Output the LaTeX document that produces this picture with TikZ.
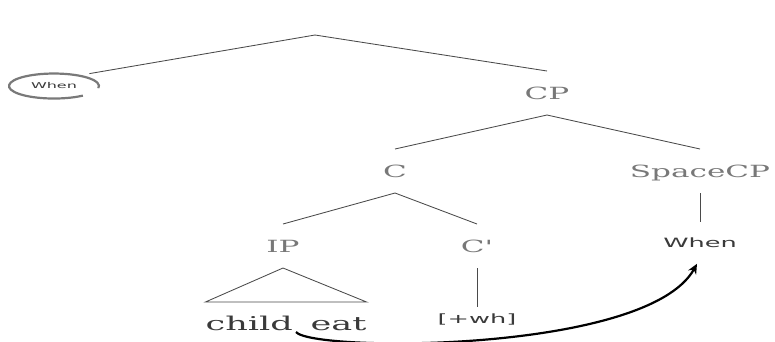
\documentclass[tikz,border=0pt]{standalone}
\usepackage{fontspec}
\setmainfont{DejaVu Serif}
\setsansfont{DejaVu Sans}
\usepackage{graphicx}
\usetikzlibrary{arrows.meta,shapes.geometric}

\definecolor{labelgray}{HTML}{787878}
\definecolor{linegray}{HTML}{4A4A4A}
\definecolor{wordgray}{HTML}{3A3A3A}

% stretched text, the labels are set wide
\newcommand{\wide}[2][1.85]{\scalebox{#1}[1]{#2}}

\tikzset{
  cat/.style={text=labelgray, font=\fontsize{16.8}{18}\selectfont, inner sep=0pt,
    outer ysep=16pt, text height=12pt, text depth=0pt},
  word/.style={text=wordgray, font=\sffamily\fontsize{12.8}{14}\selectfont, inner sep=0pt,
    outer ysep=16pt, text height=9.5pt, text depth=0pt},
  branch/.style={draw=linegray, line width=0.85pt},
  move/.style={-{Stealth[length=10pt,width=9pt]}, line width=2.2pt, black},
}

\begin{document}
\begin{tikzpicture}[x=1pt,y=-1pt]
\useasboundingbox (0,0) rectangle (775,341);

% top of the tree, its label is left empty
\coordinate (top) at (315,35);
\node[ellipse, minimum width=90pt, minimum height=25pt, inner sep=0pt, outer sep=5pt,
  text=wordgray, font=\sffamily\fontsize{8}{9}\selectfont] (spec) at (54,86) {\wide[2]{When}};
\draw[draw=gray!95!black, line width=2.2pt] (spec.center) ++(28.9,9.6)
  arc[start angle=50, end angle=370, x radius=45, y radius=12.5];

% categories
\node[cat] (cp) at (547,93) {\wide{CP}};
\node[cat] (c) at (395,171) {\wide{C}};
\node[cat] (spacecp) at (700,171) {\wide{SpaceCP}};
\node[cat] (ip) at (283,246) {\wide{IP}};
\node[cat] (cbar) at (477,246) {\wide{C\textquotesingle}};

% words
\node[word] (when) at (700,243) {\wide[2]{When}};
\node[word, outer ysep=6pt, text height=10pt] (wh) at (477,318) {\wide[2]{[+wh]}};
\node[text=wordgray, font=\fontsize{19}{21}\selectfont, inner sep=0pt, outer ysep=14pt,
  text height=14pt, text depth=0pt, anchor=base] (ce) at (286,330) {\wide{child\hspace{0.5em}eat}};

% branches
\draw[branch] (top) -- (spec.north east);
\draw[branch] (top) -- (cp.north);
\draw[branch] (cp.south) -- (c.north);
\draw[branch] (cp.south) -- (spacecp.north);
\draw[branch] (c.south) -- (ip.north);
\draw[branch] (c.south) -- (cbar.north);
\draw[branch] (spacecp.south) -- (when.north);
\draw[branch] (cbar.south) -- (wh.north);
\draw[branch] (ip.south) -- (ce.north west) -- (ce.north east) -- cycle;

% movement of the wh-word
\draw[move] (ce.base) ++(10,2) .. controls +(16,20) and +(-50,90) .. ([xshift=-3pt]when.south);
\end{tikzpicture}
\end{document}
